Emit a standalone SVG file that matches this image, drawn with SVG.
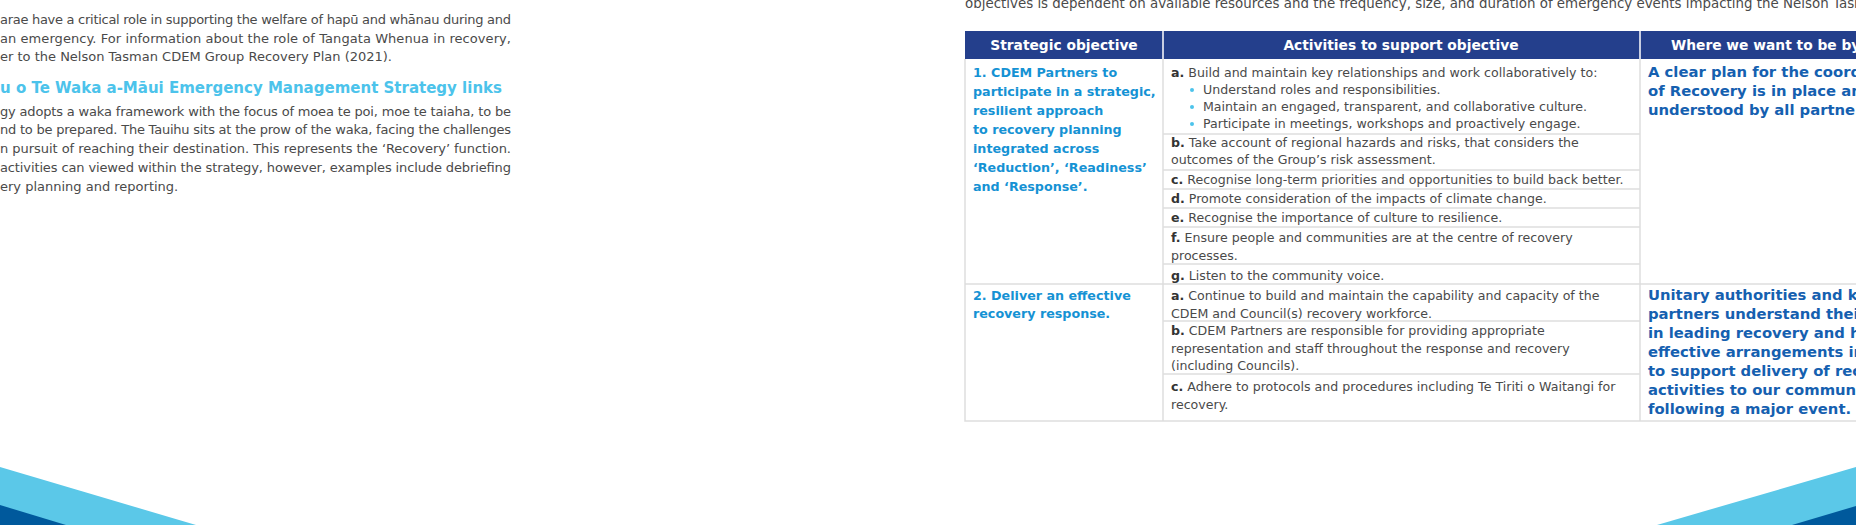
<svg xmlns="http://www.w3.org/2000/svg" width="1856" height="525" viewBox="0 0 1856 525">
<style>
.body{font-family:"DejaVu Sans",Verdana,sans-serif;font-size:13px;fill:#4a4a4a}
.cell{font-family:"DejaVu Sans",Verdana,sans-serif;font-size:12.6px;fill:#4a4a4a}
.cell tspan.b{font-weight:bold;fill:#333}
.obj{font-family:"DejaVu Sans",Verdana,sans-serif;font-size:12.7px;font-weight:bold;fill:#1592d4}
.goal{font-family:"DejaVu Sans",Verdana,sans-serif;font-size:14.8px;font-weight:bold;fill:#1560b0}
.hd{font-family:"DejaVu Sans",Verdana,sans-serif;font-size:13.8px;font-weight:bold;fill:#fff}
.h2{font-family:"DejaVu Sans",Verdana,sans-serif;font-size:15px;font-weight:bold;fill:#4cc3eb}
.grid{stroke:#dedede;stroke-width:1.5;fill:none}
</style>
<rect width="1856" height="525" fill="#fff"/>
<g id="left-text">
<text class="body" x="0" y="24" textLength="511" lengthAdjust="spacing">arae have a critical role in supporting the welfare of hapū and whānau during and</text>
<text class="body" x="0" y="43" textLength="511" lengthAdjust="spacing">an emergency. For information about the role of Tangata Whenua in recovery,</text>
<text class="body" x="0" y="61">er to the Nelson Tasman CDEM Group Recovery Plan (2021).</text>
<text class="h2" x="0" y="93">u o Te Waka a-Māui Emergency Management Strategy links</text>
<text class="body" x="0" y="116" textLength="511" lengthAdjust="spacing">gy adopts a waka framework with the focus of moea te poi, moe te taiaha, to be</text>
<text class="body" x="0" y="134" textLength="511" lengthAdjust="spacing">nd to be prepared. The Tauihu sits at the prow of the waka, facing the challenges</text>
<text class="body" x="0" y="153" textLength="511" lengthAdjust="spacing">n pursuit of reaching their destination. This represents the ‘Recovery’ function.</text>
<text class="body" x="0" y="172" textLength="511" lengthAdjust="spacing">activities can viewed within the strategy, however, examples include debriefing</text>
<text class="body" x="0" y="191">ery planning and reporting.</text>
</g>
<text class="body" x="965" y="8" style="font-size:13.4px">objectives is dependent on available resources and the frequency, size, and duration of emergency events impacting the Nelson Tasman r</text>
<g id="table">
<rect x="965" y="31" width="891" height="28" fill="#243f8c"/>
<line x1="1163" y1="31" x2="1163" y2="59" stroke="#fff" stroke-width="1.5"/>
<line x1="1640" y1="31" x2="1640" y2="59" stroke="#fff" stroke-width="1.5"/>
<text class="hd" x="1064" y="50" text-anchor="middle">Strategic objective</text>
<text class="hd" x="1401" y="50" text-anchor="middle">Activities to support objective</text>
<text class="hd" x="1671" y="50">Where we want to be by</text>
<g class="grid">
<path d="M965 59V421H1856M1163 59V421M1640 59V421M965 284H1856"/>
<path d="M1163 134H1640M1163 170H1640M1163 189H1640M1163 208H1640M1163 227H1640M1163 264H1640M1163 321H1640M1163 374H1640"/>
</g>
<g id="row1">
<text class="obj" x="973" y="77">1. CDEM Partners to</text>
<text class="obj" x="973" y="96">participate in a strategic,</text>
<text class="obj" x="973" y="115">resilient approach</text>
<text class="obj" x="973" y="134">to recovery planning</text>
<text class="obj" x="973" y="153">integrated across</text>
<text class="obj" x="973" y="172">‘Reduction’, ‘Readiness’</text>
<text class="obj" x="973" y="191">and ‘Response’.</text>
<text class="cell" x="1171" y="77"><tspan class="b">a.</tspan> Build and maintain key relationships and work collaboratively to:</text>
<g fill="#4cc3eb"><circle cx="1192" cy="90" r="2"/><circle cx="1192" cy="107" r="2"/><circle cx="1192" cy="124" r="2"/></g>
<text class="cell" x="1203" y="94">Understand roles and responsibilities.</text>
<text class="cell" x="1203" y="111">Maintain an engaged, transparent, and collaborative culture.</text>
<text class="cell" x="1203" y="128">Participate in meetings, workshops and proactively engage.</text>
<text class="cell" x="1171" y="147"><tspan class="b">b.</tspan> Take account of regional hazards and risks, that considers the</text>
<text class="cell" x="1171" y="164">outcomes of the Group’s risk assessment.</text>
<text class="cell" x="1171" y="184"><tspan class="b">c.</tspan> Recognise long-term priorities and opportunities to build back better.</text>
<text class="cell" x="1171" y="203"><tspan class="b">d.</tspan> Promote consideration of the impacts of climate change.</text>
<text class="cell" x="1171" y="222"><tspan class="b">e.</tspan> Recognise the importance of culture to resilience.</text>
<text class="cell" x="1171" y="242"><tspan class="b">f.</tspan>  Ensure people and communities are at the centre of recovery</text>
<text class="cell" x="1171" y="260">processes.</text>
<text class="cell" x="1171" y="280"><tspan class="b">g.</tspan> Listen to the community voice.</text>
<text class="goal" x="1648" y="77">A clear plan for the coordin</text>
<text class="goal" x="1648" y="96">of Recovery is in place and</text>
<text class="goal" x="1648" y="115">understood by all partners.</text>
</g>
<g id="row2">
<text class="obj" x="973" y="300">2. Deliver an effective</text>
<text class="obj" x="973" y="318">recovery response.</text>
<text class="cell" x="1171" y="300"><tspan class="b">a.</tspan> Continue to build and maintain the capability and capacity of the</text>
<text class="cell" x="1171" y="318">CDEM and Council(s) recovery workforce.</text>
<text class="cell" x="1171" y="335"><tspan class="b">b.</tspan> CDEM Partners are responsible for providing appropriate</text>
<text class="cell" x="1171" y="353">representation and staff throughout the response and recovery</text>
<text class="cell" x="1171" y="370">(including Councils).</text>
<text class="cell" x="1171" y="391"><tspan class="b">c.</tspan> Adhere to protocols and procedures including Te Tiriti o Waitangi for</text>
<text class="cell" x="1171" y="409">recovery.</text>
<text class="goal" x="1648" y="300">Unitary authorities and key</text>
<text class="goal" x="1648" y="319">partners understand their r</text>
<text class="goal" x="1648" y="338">in leading recovery and hav</text>
<text class="goal" x="1648" y="357">effective arrangements in p</text>
<text class="goal" x="1648" y="376">to support delivery of recov</text>
<text class="goal" x="1648" y="395">activities to our communiti</text>
<text class="goal" x="1648" y="414">following a major event.</text>
</g>
</g>
<g id="decor">
<polygon points="0,467 196,525 0,525" fill="#5bc8e8"/>
<polygon points="0,505 66,525 0,525" fill="#00599c"/>
<polygon points="1856,467 1657,525 1856,525" fill="#5bc8e8"/>
<polygon points="1856,506 1792,525 1856,525" fill="#00599c"/>
</g>
</svg>
